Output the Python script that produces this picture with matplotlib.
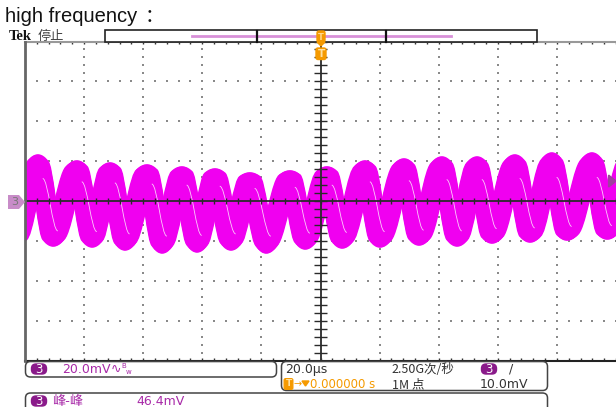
import numpy as np
import matplotlib
matplotlib.use("Agg")
import matplotlib.pyplot as plt
from matplotlib.path import Path
from matplotlib.patches import PathPatch, FancyBboxPatch, Rectangle, Polygon

# Scope settings (20 us/div, 20 mV/div, 10 x 8 divisions)
TIME_PER_DIV = 20.0
VOLT_PER_DIV = 20.0

# Trace extrema: time in us, level in mV (centre of the band)
peak_times = [-95.6, -82.4, -71.2, -58.7, -46.9, -35.7, -23.9, -10.3,
              2.2, 15.1, 28.3, 41.1, 53.0, 65.8, 78.3, 91.9, 104.4]
peak_levels = [20.5, 17.5, 16.5, 15.5, 14.5, 13.5, 11.5, 12.5,
               14.5, 17.5, 18.5, 19.5, 19.5, 20.5, 21.5, 21.5, 21.5]
trough_times = [-103.0, -90.5, -77.3, -66.2, -53.6, -41.8, -30.3, -18.4,
                -5.2, 7.3, 20.1, 33.3, 46.2, 58.0, 70.9, 83.4, 97.0]
trough_levels = [-20.0, -20.0, -20.5, -22.0, -23.5, -23.0, -22.0, -23.5,
                 -21.5, -21.0, -20.5, -19.5, -20.0, -18.5, -18.0, -17.0, -16.5]

# spread of the persisted trace
JITTER_T = 3.1   # us
NOISE_V = 2.5    # mV

W, H = 616, 407
MAGENTA = '#f000f0'
PURPLE = '#a82aa8'
PILL = '#8a1a8a'
ORANGE = '#f59a00'
CJK = ['Noto Sans CJK SC', 'DejaVu Sans']

fig = plt.figure(figsize=(W / 100, H / 100), dpi=100)
fig.patch.set_facecolor('white')


def fx(px):
    return px / W


def fy(py):
    return 1 - py / H


ax = fig.add_axes([fx(25), fy(360.5), fx(616 - 25), (360.5 - 41.5) / H])
ax.set_xlim(-5 * TIME_PER_DIV, 5 * TIME_PER_DIV)
ax.set_ylim(-4 * VOLT_PER_DIV, 4 * VOLT_PER_DIV)
ax.axis('off')

# graticule dots
sub_x = np.arange(-100, 100.1, TIME_PER_DIV / 5)
sub_y = np.arange(-80, 80.1, VOLT_PER_DIV / 5)
for gx in np.arange(-80, 81, TIME_PER_DIV):
    if gx == 0:
        continue
    ax.scatter(np.full(len(sub_y), gx), sub_y, s=1.2, marker='s', color='#8a8a8a', lw=0, zorder=1)
for gy in np.arange(-60, 61, VOLT_PER_DIV):
    if gy == 0:
        continue
    ax.scatter(sub_x, np.full(len(sub_x), gy), s=1.2, marker='s', color='#8a8a8a', lw=0, zorder=1)

# trace: smooth path through extrema, repeated with time jitter and noise
pts = sorted(list(zip(peak_times, peak_levels)) + list(zip(trough_times, trough_levels)))
verts = [pts[0]]
codes = [Path.MOVETO]
for (t0, v0), (t1, v1) in zip(pts[:-1], pts[1:]):
    dt = t1 - t0
    verts += [(t0 + 0.36 * dt, v0), (t1 - 0.36 * dt, v1), (t1, v1)]
    codes += [Path.CURVE4] * 3
verts = np.array(verts)
for dx in np.linspace(-JITTER_T, JITTER_T, 15):
    scale = 1 - 0.15 * (dx / JITTER_T) ** 2
    for dy in np.linspace(-NOISE_V, NOISE_V, 5):
        v = verts.copy()
        v[:, 0] += dx
        v[:, 1] = v[:, 1] * scale + dy
        ax.add_patch(PathPatch(Path(v, codes), fill=False, edgecolor=MAGENTA, lw=1.3,
                               capstyle='round', joinstyle='round', zorder=2))

# thin gaps seen on the falling edges
fall_verts, fall_codes = [], []
for (t0, v0), (t1, v1) in zip(pts[:-1], pts[1:]):
    if v1 < v0:
        dt = t1 - t0
        fall_verts += [(t0, v0 * 0.55), (t0 + 0.36 * dt, v0 * 0.55),
                       (t1 - 0.36 * dt, v1 * 0.75), (t1, v1 * 0.75)]
        fall_codes += [Path.MOVETO] + [Path.CURVE4] * 3
fall_verts = np.array(fall_verts) + [1.6, 0]
ax.add_patch(PathPatch(Path(fall_verts, fall_codes), fill=False, edgecolor='white',
                       lw=0.6, alpha=0.8, zorder=2.5))

# centre crosshair and borders
ax.axhline(0, color='#2a2a2a', lw=1.3, zorder=3)
ax.axvline(0, color='#2a2a2a', lw=1.3, zorder=3)
ax.vlines(sub_x, -1.6, 1.6, color='#2a2a2a', lw=1, zorder=3)
ax.hlines(sub_y, -2.2, 2.2, color='#2a2a2a', lw=1, zorder=3)
ax.vlines(sub_x, 78.5, 80, color='#333333', lw=1, zorder=3)
ax.vlines(sub_x, -80, -78.5, color='#333333', lw=1, zorder=3)
ax.plot([-100, 100], [-80, -80], color='#222222', lw=1.5, zorder=3, clip_on=False)
ax.plot([-100, 100], [80, 80], color='#999999', lw=1.5, zorder=3, clip_on=False)
ax.plot([-100, -100], [-80, 80], color='#666666', lw=2, zorder=3, clip_on=False)

# right-edge trigger level marker (mostly off screen)
ax.add_patch(Polygon([[100, 10], [97.5, 13], [97.5, 7]], closed=True, color='#a040a0',
                     zorder=4, clip_on=True))

# overlay in pixel space
ov = fig.add_axes([0, 0, 1, 1])
ov.set_xlim(0, W)
ov.set_ylim(H, 0)
ov.axis('off')

ov.text(5, 17, 'high frequency', fontsize=14.5, va='center', ha='left',
        family='Liberation Sans', color='#111111')
ov.text(145, 16, '：', fontsize=14, va='center', ha='left',
        family='Noto Sans CJK SC', color='#111111')
ov.text(9, 36.5, 'Tek', fontsize=10.5, weight='bold', family='Liberation Serif',
        va='center', ha='left', color='#111111')
ov.text(38, 36.5, '停止', fontsize=9.5, family=CJK, va='center', ha='left', color='#444444')

# record bar
ov.add_patch(Rectangle((105, 30), 432, 12, facecolor='white', edgecolor='#222222', lw=1.2, zorder=5))
ov.plot([192, 451], [35.5, 35.5], color='#d890d8', lw=2, zorder=6)
for bx in (257, 386):
    ov.plot([bx, bx], [31, 41.5], color='#111111', lw=1.6, zorder=6)
ov.add_patch(FancyBboxPatch((317.5, 31.5), 7, 10, boxstyle='round,pad=0.5,rounding_size=2',
                            facecolor=ORANGE, edgecolor=ORANGE, zorder=7))
ov.text(321, 37, 'T', fontsize=6, color='#ffd890', ha='center', va='center', weight='bold', zorder=8)
ov.add_patch(Polygon([[317, 42], [325, 42], [321, 46]], closed=True, color=ORANGE, zorder=7))
# trigger position marker
ov.add_patch(FancyBboxPatch((316.5, 48.5), 9, 10.5, boxstyle='round,pad=0.5,rounding_size=2',
                            facecolor=ORANGE, edgecolor=ORANGE, zorder=7))
ov.text(321, 54, 'T', fontsize=7.5, color='#ffe0a0', ha='center', va='center', weight='bold', zorder=8)

# channel 3 ground marker
ov.add_patch(Polygon([[8, 195], [19, 195], [25, 202], [19, 209], [8, 209]], closed=True,
                     facecolor='#c88cc8', edgecolor='none', zorder=7))
ov.text(15, 202, '3', fontsize=8, color='#777777', ha='center', va='center', zorder=8)

# readout boxes
box_style = 'round,pad=0,rounding_size=5'
ov.add_patch(FancyBboxPatch((25.5, 361.5), 251, 15.5, boxstyle=box_style, facecolor='none',
                            edgecolor='#444444', lw=1.1))
ov.add_patch(FancyBboxPatch((281.5, 361.5), 266, 29, boxstyle=box_style, facecolor='none',
                            edgecolor='#444444', lw=1.1))
ov.add_patch(FancyBboxPatch((25.5, 393), 522, 24, boxstyle=box_style, facecolor='none',
                            edgecolor='#444444', lw=1.1, clip_on=False))


def pill(x, y):
    ov.add_patch(FancyBboxPatch((x - 7, y - 4.5), 14, 9, boxstyle='round,pad=0.5,rounding_size=4.5',
                                facecolor=PILL, edgecolor=PILL, zorder=7))
    ov.text(x, y + 0.3, '3', fontsize=8.5, color='white', ha='center', va='center', zorder=8)


pill(39, 369)
ov.text(62, 369.5, '20.0mV', fontsize=9, color=PURPLE, va='center', ha='left', family='DejaVu Sans')
ov.text(111, 369.5, '∿', fontsize=9, color=PURPLE, va='center', ha='left', family='DejaVu Sans')
ov.text(121, 366.5, 'B', fontsize=5, color=PURPLE, va='center', ha='left', family='DejaVu Sans')
ov.text(126, 372, 'w', fontsize=5, color=PURPLE, va='center', ha='left', family='DejaVu Sans')

ov.text(285, 369.5, '20.0μs', fontsize=9, color='#333333', va='center', ha='left', family='DejaVu Sans')
ov.text(391, 369.5, '2.50G次/秒', fontsize=9, color='#333333', va='center', ha='left', family=CJK)
pill(489, 369)
ov.text(509, 369.5, '/', fontsize=9, color='#333333', va='center', ha='left', family='DejaVu Sans')

ov.add_patch(FancyBboxPatch((284.5, 379), 8, 10, boxstyle='round,pad=0.3,rounding_size=1.5',
                            facecolor=ORANGE, edgecolor=ORANGE, zorder=7))
ov.text(288.5, 384, 'T', fontsize=6.5, color='#ffe0a0', ha='center', va='center', weight='bold', zorder=8)
ov.text(294, 384, '→', fontsize=7, color=ORANGE, va='center', ha='left', family='DejaVu Sans')
ov.add_patch(Polygon([[302, 381], [309, 381], [305.5, 386]], closed=True, color=ORANGE))
ov.text(310, 384.5, '0.000000 s', fontsize=8.5, color=ORANGE, va='center', ha='left', family='DejaVu Sans')
ov.text(392, 384.5, '1M 点', fontsize=9, color='#333333', va='center', ha='left', family=CJK)
ov.text(480, 384.5, '10.0mV', fontsize=9, color='#333333', va='center', ha='left', family='DejaVu Sans')

pill(39, 401)
ov.text(52, 401, '峰-峰', fontsize=9.5, color=PURPLE, va='center', ha='left', family=CJK)
ov.text(136, 401.5, '46.4mV', fontsize=9, color=PURPLE, va='center', ha='left', family='DejaVu Sans')

fig.savefig('out.png', dpi=100)
